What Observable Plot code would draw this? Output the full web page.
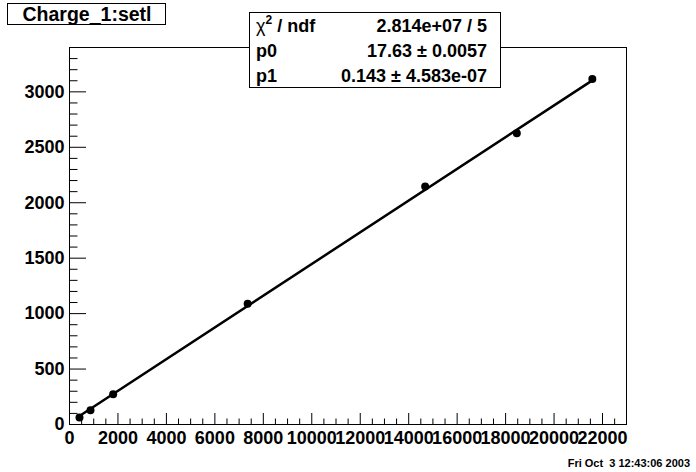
<!DOCTYPE html>
<html><head><meta charset="utf-8">
<script src="https://cdn.jsdelivr.net/npm/d3@7"></script>
<script src="https://cdn.jsdelivr.net/npm/@observablehq/plot@0.6"></script>
<style>body{margin:0;background:#fff} svg{display:block}</style>
</head><body><div id="chart"></div>
<script>
// Data
const xValues = [412, 866, 1802, 7353, 14680, 18462, 21580];
const yValues = [63, 129, 273, 1090, 2147, 2627, 3117];
const fitP0 = 17.63;
const fitP1 = 0.143;
const xMajorTicks = [0, 2000, 4000, 6000, 8000, 10000, 12000, 14000, 16000, 18000, 20000, 22000];
const yMajorTicks = [0, 500, 1000, 1500, 2000, 2500, 3000];
const statsLabels = ["p0", "p1"];
const statsValues = ["2.814e+07 / 5", "17.63 \u00b1 0.0057", "0.143 \u00b1 4.583e-07"];
const titleText = "Charge_1:setl";
const dateText = "Fri Oct  3 12:43:06 2003";

const xMinorTicks = d3.range(0, 23000, 500).filter(d => d % 2000 !== 0);
const yMinorTicks = d3.range(0, 3400, 100).filter(d => d % 500 !== 0);
const points = xValues.map((x, i) => ({x, y: yValues[i]}));
const xFirst = d3.min(xValues), xLast = d3.max(xValues);
const fitLine = [xFirst, xLast].map(x => ({x, y: fitP0 + fitP1 * x}));

const W = 696, H = 472, mL = 69, mT = 47, mR = 70, mB = 48;
const fw = W - mL - mR, fh = H - mT - mB;
const FONT = "'Liberation Sans', Arial, Helvetica, sans-serif";

const svg = Plot.plot({
  width: W, height: H,
  marginLeft: mL, marginTop: mT, marginRight: mR, marginBottom: mB,
  style: {fontFamily: FONT, fontSize: "18px", fontWeight: "bold", background: "white", color: "black", overflow: "visible"},
  x: {domain: [0, 22990]},
  y: {domain: [0, 3400]},
  marks: [
    Plot.frame({stroke: "black"}),
    Plot.tickX(xMajorTicks, {x: d => d, insetTop: fh - 11, stroke: "black"}),
    Plot.tickX(xMinorTicks, {x: d => d, insetTop: fh - 5.5, stroke: "black"}),
    Plot.tickY(yMajorTicks, {y: d => d, insetRight: fw - 17, stroke: "black"}),
    Plot.tickY(yMinorTicks, {y: d => d, insetRight: fw - 8.5, stroke: "black"}),
    Plot.axisX(xMajorTicks, {tickSize: 0, tickPadding: 7, tickFormat: d => String(d), label: null}),
    Plot.axisY(yMajorTicks, {tickSize: 0, tickPadding: 5, tickFormat: d => String(d), label: null}),
    Plot.line(fitLine, {x: "x", y: "y", stroke: "black", strokeWidth: 2.5}),
    Plot.dot(points, {x: "x", y: "y", r: 4, fill: "black", stroke: "none"})
  ]
});
document.getElementById("chart").append(svg);

const s = d3.select(svg);
// Title box
const tg = s.append("g").attr("font-family", FONT).attr("font-weight", "bold");
tg.append("rect").attr("x", 7.5).attr("y", 3.5).attr("width", 158).attr("height", 21)
  .attr("fill", "white").attr("stroke", "black");
tg.append("text").attr("x", 87).attr("y", 20.5).attr("text-anchor", "middle")
  .attr("font-size", 19.5).text(titleText);

// Stats box
const sg = s.append("g").attr("font-family", FONT).attr("font-weight", "bold").attr("font-size", 18);
sg.append("rect").attr("x", 249.5).attr("y", 12.5).attr("width", 251).attr("height", 75)
  .attr("fill", "white").attr("stroke", "black");
const rowY = [31.5, 56.5, 81.5];
const chi = sg.append("text").attr("x", 256).attr("y", rowY[0]).attr("text-anchor", "start");
chi.append("tspan").attr("font-weight", "normal").text("\u03c7");
chi.append("tspan").attr("font-size", 12).attr("dy", -8).text("2");
chi.append("tspan").attr("dy", 8).text(" / ndf");
statsLabels.forEach((l, i) => sg.append("text").attr("x", 256).attr("y", rowY[i + 1]).attr("text-anchor", "start").text(l));
statsValues.forEach((v, i) => sg.append("text").attr("x", 487).attr("y", rowY[i]).attr("text-anchor", "end").text(v));

// Date stamp
s.append("text").attr("x", 690).attr("y", 467).attr("text-anchor", "end")
  .attr("font-family", FONT).attr("font-weight", "bold").attr("font-size", 11)
  .style("white-space", "pre").attr("xml:space", "preserve").text(dateText);
</script>
</body></html>
